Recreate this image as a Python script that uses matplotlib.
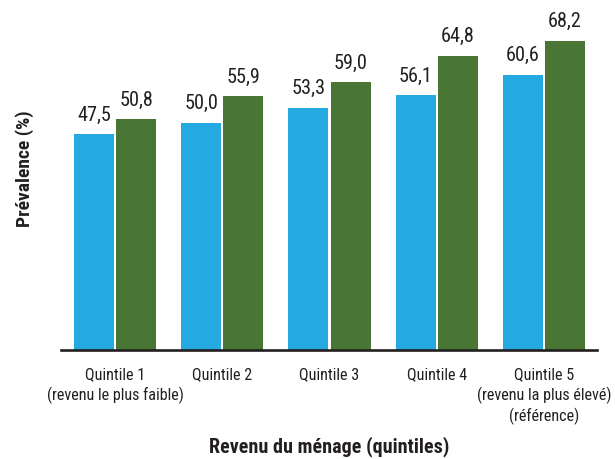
import matplotlib
matplotlib.use("Agg")
import matplotlib.pyplot as plt
from matplotlib import font_manager
import numpy as np

categories = ["Quintile 1\n(revenu le plus faible)", "Quintile 2", "Quintile 3", "Quintile 4",
              "Quintile 5\n(revenu la plus élevé)\n(référence)"]
series_a = [47.5, 50.0, 53.3, 56.1, 60.6]
series_b = [50.8, 55.9, 59.0, 64.8, 68.2]

installed = {f.name for f in font_manager.fontManager.ttflist}
fam = "DejaVu Sans"
for cand in ["Roboto Condensed", "Liberation Sans Narrow", "Open Sans Condensed", "Roboto", "Lato"]:
    if cand in installed:
        fam = cand
        break
FAM = [fam, "DejaVu Sans"]
TXT = "#231f20"

W, H = 615, 459
fig = plt.figure(figsize=(W/100, H/100), dpi=100)
x0, x1, yb, yt = 61, 597, 349.5, 9.8
ax = fig.add_axes([x0/W, 1-yb/H, (x1-x0)/W, (yb-yt)/H])
renderer = fig.canvas.get_renderer()

def fit_size(text, target_px, weight="normal", base=12, maxsize=16):
    t = fig.text(0, 0, text, fontsize=base, family=FAM, fontweight=weight)
    w = t.get_window_extent(renderer).width
    t.remove()
    return min(maxsize, base * target_px / w)

val_size = fit_size("47,5", 34, maxsize=15)
tick_size = fit_size("(revenu le plus faible)", 138, maxsize=13)
xlab_size = fit_size("Revenu du ménage (quintiles)", 240, weight="bold", maxsize=15)
ylab_size = fit_size("Prévalence (%)", 117, weight="bold", maxsize=15)

x = np.arange(len(categories))
w = 0.373
off = 0.196
ba = ax.bar(x - off, series_a, w, color="#24a9e1")
bb = ax.bar(x + off, series_b, w, color="#497535")

def fmt(v):
    return f"{v:.1f}".replace(".", ",")

for bars, vals in ((ba, series_a), (bb, series_b)):
    for r, v in zip(bars, vals):
        ax.annotate(fmt(v), (r.get_x() + r.get_width()/2, v), xytext=(0, 7),
                    textcoords="offset points", ha="center", va="bottom",
                    fontsize=val_size, family=FAM, color=TXT)

ax.set_xlim(-0.503, 4.494)
ax.set_ylim(0, 75)
ax.set_yticks([])
ax.set_xticks(x)
ax.set_xticklabels(categories, fontsize=tick_size, family=FAM, color=TXT,
                   linespacing=1.3)
ax.tick_params(axis="x", length=0, pad=13)
for s in ("top", "right", "left"):
    ax.spines[s].set_visible(False)
ax.spines["bottom"].set_linewidth(1.9)
ax.spines["bottom"].set_color(TXT)

fig.text(25/W, 1-168.5/H, "Prévalence (%)", rotation=90, ha="center", va="center",
         fontsize=ylab_size, fontweight="bold", family=FAM, color=TXT)
fig.text(329/W, 1-447/H, "Revenu du ménage (quintiles)", ha="center", va="center",
         fontsize=xlab_size, fontweight="bold", family=FAM, color=TXT)

fig.savefig("out.png", dpi=100)
